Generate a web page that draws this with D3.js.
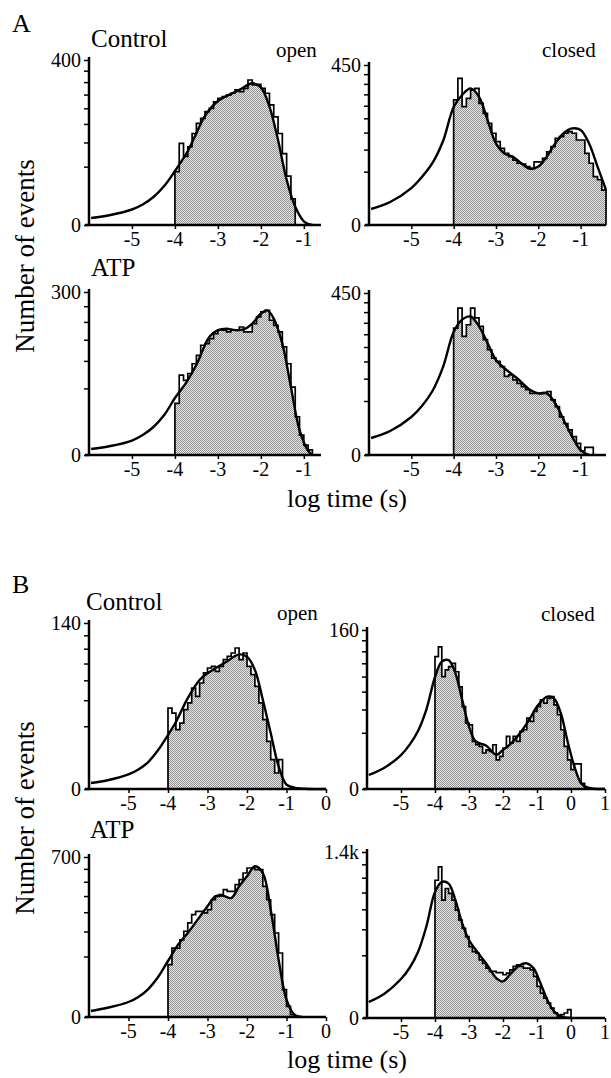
<!DOCTYPE html>
<html><head><meta charset="utf-8">
<script src="https://cdn.jsdelivr.net/npm/d3@7"></script>
<style>
html,body{margin:0;padding:0;background:#fff;}
svg text{font-family:"Liberation Serif";}
</style></head>
<body>
<svg id="chart" width="611" height="1078"></svg>
<script>
// ---------- DATA (log10 time in s; counts; sqrt y-axis) ----------
const binWidth = 0.1;
const histStart = -4;

// A - Control - open
const aCtrlOpenHist = [42,98,69,90,123,152,167,189,200,223,236,242,248,255,268,261,274,309,288,291,274,255,212,172,123,75,35,10];
const aCtrlOpenFitX = [-5.95,-5.5,-5,-4.75,-4.5,-4.25,-4,-3.7,-3.5,-3.3,-3,-2.5,-2.2,-2,-1.8,-1.6,-1.4,-1.2,-1,-0.8];
const aCtrlOpenFitY = [0.72,1.47,3.53,6.17,11.5,22.3,42.8,80.5,124,175,226,268,295,278,206,106,30,4.9,0.2,0];

// A - Control - closed
const aCtrlClosedHist = [275,378,246,282,320,328,260,219,182,148,122,103,90,82,74,67,65,60,56,70,70,78,94,108,132,137,148,153,148,127,127,90,67,41,36,21.5];
const aCtrlClosedFitX = [-5.95,-5.5,-5,-4.75,-4.5,-4.25,-4,-3.8,-3.6,-3.4,-3.2,-3,-2.8,-2.6,-2.4,-2.2,-2,-1.8,-1.6,-1.4,-1.2,-1,-0.8,-0.6,-0.4];
const aCtrlClosedFitY = [4.5,9.3,24,40.5,67.6,124,245,297,328,289,194,117,90,82,67,56,60,82,117,148,164,159,117,60,21.5];

// A - ATP - open
const aAtpOpenHist = [30,72,63,75,94,112,136,140,153,166,176,176,171,176,176,185,171,171,195,215,231,236,205,190,171,132,94,52,16.5,4.5,1.1,0.3];
const aAtpOpenFitX = [-5.95,-5.5,-5,-4.75,-4.5,-4.25,-4,-3.75,-3.5,-3.2,-3,-2.8,-2.6,-2.4,-2.2,-2,-1.85,-1.7,-1.5,-1.3,-1.1,-0.9,-0.8];
const aAtpOpenFitY = [0.41,0.91,2.37,4.5,8.85,18,36.7,58,92,157,176,180,176,178,195,226,236,210,140,52,7,0.2,0];

// A - ATP - closed
const aAtpClosedHist = [276,370,241,291,370,322,284,228,190,161,150,134,106,110,97,88,80,73,65,65,65,67,69,52,40,25,17,10.8,5.8,2.3,0.3,1,1];
const aAtpClosedFitX = [-5.95,-5.5,-5,-4.75,-4.5,-4.25,-4,-3.8,-3.6,-3.4,-3.2,-3,-2.8,-2.5,-2.2,-2,-1.8,-1.6,-1.4,-1.2,-1,-0.8];
const aAtpClosedFitY = [4.95,9.9,24.8,41.2,70.2,133,259,314,329,284,215,155,129,101,73,65,65,46,21,5.8,0.4,0];

// B - Control - open
const bCtrlOpenHist = [33.3,29.3,17.9,22.1,32,37.6,51.8,43.6,57.1,68.4,74.4,76.4,70.4,76.4,85,89.4,94,101,85,94,76.4,66.4,53.5,37.6,24.4,11.5,4.4,1.3,4.4];
const bCtrlOpenFitX = [-5.95,-5.5,-5,-4.75,-4.5,-4.25,-4,-3.8,-3.5,-3.2,-3,-2.8,-2.5,-2.2,-2,-1.8,-1.6,-1.4,-1.2,-1,-0.8,-0.4,0];
const bCtrlOpenFitY = [0.18,0.41,1.07,1.93,3.7,7.7,14.8,22.8,42,60.4,68,74,83,92,89,72,40.5,15.9,2.6,0.1,0.01,0,0];

// B - Control - closed
const bCtrlClosedHist = [111,128,80,89.8,94.8,100,87,66,43,27.5,26,14.3,12.4,11.5,8.2,9.7,8.9,12.4,5.4,6.7,10.6,17.5,13.3,17.5,14.3,21,22.2,31.8,28.9,38,43,50.3,46.6,52,54,44.8,34.9,22.2,11.5,5.4,2.4,4,4,0.2];
const bCtrlClosedFitX = [-5.95,-5.5,-5,-4.75,-4.5,-4.25,-4,-3.8,-3.6,-3.4,-3.2,-3,-2.8,-2.5,-2.2,-2,-1.8,-1.5,-1.2,-1,-0.7,-0.5,-0.3,-0.1,0.1,0.3,0.5,1];
const bCtrlClosedFitY = [1.24,2.79,7.3,12.3,21.3,40.5,79.4,102.7,105,84.8,50.3,24.7,14.3,12,7.4,9.7,12.4,19.7,31.8,43,54,52,36.4,14.3,3.2,0.2,0.01,0];

// B - ATP - open
const bAtpOpenHist = [75,130,130,163,201,242,287,305,305,296,315,376,398,409,443,432,432,479,516,567,607,607,594,594,467,376,287,193,112,20.4,3.1,0.15];
const bAtpOpenFitX = [-5.95,-5.5,-5,-4.75,-4.5,-4.25,-4,-3.75,-3.5,-3,-2.8,-2.6,-2.4,-2.2,-2,-1.8,-1.6,-1.4,-1.2,-1,-0.8,-0.6];
const bAtpOpenFitY = [0.98,2.47,6.15,10.9,21.4,43.75,85.75,141.75,193,335,398,402,387,467,541,621,567,315,90,8.2,0.15,0];

// B - ATP - closed
const bAtpClosedHist = [964,1159,706,852,788,706,592,487,408,336,259,224,213,172,152,126,110,110,105,105,95,102,118,135,143,135,126,126,118,88,51,31.5,20,11.3,5,1.3,0.14,0.56,1.26,3.5];
const bAtpClosedFitX = [-5.95,-5.5,-5,-4.75,-4.5,-4.25,-4,-3.8,-3.6,-3.4,-3.2,-3,-2.8,-2.5,-2.2,-2,-1.8,-1.5,-1.3,-1.1,-0.9,-0.7,-0.5,-0.3,0];
const bAtpClosedFitY = [13,29.3,77.3,127,221,430,807,941,918,706,455,309,235,152,81,68,95,143,152,126,62,17,2.2,0.14,0];

// tick labels
const xTicksA = [-5,-4,-3,-2,-1];
const xTicksBOpen = [-5,-4,-3,-2,-1,0];
const xTicksBClosed = [-5,-4,-3,-2,-1,0,1];

// ---------- LAYOUT ----------
const FONT = "Liberation Serif";
const panels = [
  {hist:aCtrlOpenHist, fx:aCtrlOpenFitX, fy:aCtrlOpenFitY, xd:[-6,-0.6], xr:[89,321], y0:225, yt:60, ymax:400, ystep:50, ylab:"400", xt:xTicksA},
  {hist:aCtrlClosedHist, fx:aCtrlClosedFitX, fy:aCtrlClosedFitY, xd:[-6,-0.4], xr:[369,606], y0:225, yt:65, ymax:450, ystep:50, ylab:"450", xt:xTicksA},
  {hist:aAtpOpenHist, fx:aAtpOpenFitX, fy:aAtpOpenFitY, xd:[-6,-0.6], xr:[89,321], y0:455, yt:292, ymax:300, ystep:50, ylab:"300", xt:xTicksA},
  {hist:aAtpClosedHist, fx:aAtpClosedFitX, fy:aAtpClosedFitY, xd:[-6,-0.4], xr:[369,606], y0:455, yt:293, ymax:450, ystep:50, ylab:"450", xt:xTicksA},
  {hist:bCtrlOpenHist, fx:bCtrlOpenFitX, fy:bCtrlOpenFitY, xd:[-6,0], xr:[89,326], y0:789, yt:623, ymax:140, ystep:20, ylab:"140", xt:xTicksBOpen},
  {hist:bCtrlClosedHist, fx:bCtrlClosedFitX, fy:bCtrlClosedFitY, xd:[-6,1], xr:[367,605], y0:789, yt:630, ymax:160, ystep:20, ylab:"160", xt:xTicksBClosed},
  {hist:bAtpOpenHist, fx:bAtpOpenFitX, fy:bAtpOpenFitY, xd:[-6,0], xr:[89,326], y0:1017, yt:857, ymax:700, ystep:100, ylab:"700", xt:xTicksBOpen},
  {hist:bAtpClosedHist, fx:bAtpClosedFitX, fy:bAtpClosedFitY, xd:[-6,1], xr:[367,605], y0:1018, yt:852, ymax:1400, ystep:200, ylab:"1.4k", xt:xTicksBClosed}
];

const svg = d3.select("#chart");
const defs = svg.append("defs");
const pat = defs.append("pattern").attr("id","dither").attr("width",2).attr("height",2).attr("patternUnits","userSpaceOnUse");
pat.append("rect").attr("width",2).attr("height",2).attr("fill","#e6e6e6");
pat.append("rect").attr("x",0).attr("y",0).attr("width",1).attr("height",1).attr("fill","#939393");
pat.append("rect").attr("x",1).attr("y",1).attr("width",1).attr("height",1).attr("fill","#939393");

const smooth = d3.curveCatmullRom.alpha(0.5);

panels.forEach((p,i) => {
  const x = d3.scaleLinear().domain(p.xd).range(p.xr);
  const y = d3.scaleSqrt().domain([0,p.ymax]).range([p.y0,p.yt]).clamp(true);
  const g = svg.append("g");
  const fit = p.fx.map((v,k)=>[v,p.fy[k]]);

  const cp = defs.append("clipPath").attr("id","clip"+i);
  cp.append("path").attr("d", d3.area().x(d=>x(d[0])).y0(p.y0).y1(d=>y(d[1])).curve(smooth)(fit));

  const pts = [[histStart,0]];
  p.hist.forEach((v,k)=>{
    const a = histStart + k*binWidth, b = a + binWidth;
    pts.push([a,v]); pts.push([b,v]);
  });
  pts.push([histStart + p.hist.length*binWidth, 0]);

  g.append("path")
    .attr("d", d3.area().x(d=>x(d[0])).y0(p.y0).y1(d=>y(d[1]))(pts))
    .attr("fill","url(#dither)")
    .attr("clip-path","url(#clip"+i+")");

  g.append("path")
    .attr("d", d3.line().x(d=>x(d[0])).y(d=>y(d[1]))(pts))
    .attr("fill","none").attr("stroke","#000").attr("stroke-width",1.7);

  g.append("path")
    .attr("d", d3.line().x(d=>x(d[0])).y(d=>Math.min(p.y0, y(d[1]))).curve(smooth)(fit))
    .attr("fill","none").attr("stroke","#000").attr("stroke-width",2.4);

  const yTicks = d3.range(0, p.ymax + 1, p.ystep);
  const ya = g.append("g").attr("transform",`translate(${p.xr[0]},0)`)
    .call(d3.axisLeft(y).tickValues(yTicks).tickSize(5).tickSizeOuter(0).tickFormat(""));
  ya.select(".domain").remove();
  ya.selectAll(".tick line").attr("stroke","#000").attr("stroke-width",1.5);
  [[0,"0"],[p.ymax,p.ylab]].forEach(([v,l]) => {
    g.append("text").attr("font-family",FONT).attr("font-size",20)
      .attr("x",p.xr[0]-8).attr("y",y(v)).attr("dy","0.35em").attr("text-anchor","end").text(l);
  });
  g.append("line").attr("x1",p.xr[0]).attr("x2",p.xr[0]).attr("y1",p.yt-3).attr("y2",p.y0)
    .attr("stroke","#000").attr("stroke-width",2.5);

  const xa = g.append("g").attr("transform",`translate(0,${p.y0})`)
    .call(d3.axisBottom(x).tickValues(p.xt).tickSize(4).tickSizeOuter(0).tickFormat(""));
  xa.select(".domain").remove();
  xa.selectAll(".tick line").attr("stroke","#000").attr("stroke-width",1.5);
  p.xt.forEach(v => {
    g.append("text").attr("font-family",FONT).attr("font-size",20)
      .attr("x",x(v)).attr("y",p.y0+21).attr("text-anchor","middle").text(String(v));
  });
  g.append("line").attr("x1",p.xr[0]-4).attr("x2",p.xr[1]).attr("y1",p.y0).attr("y2",p.y0)
    .attr("stroke","#000").attr("stroke-width",2.5);
});

function txt(s,xp,yp,size,anchor){
  svg.append("text").attr("font-family",FONT).attr("x",xp).attr("y",yp).attr("font-size",size)
    .attr("text-anchor",anchor||"start").text(s);
}
txt("A",12,32,26);
txt("Control",91,47,25);
txt("open",276,57,21);
txt("closed",542,57,21);
txt("ATP",91,276,25);
txt("log time (s)",347,507,26,"middle");
txt("B",12,593,26);
txt("Control",86,610,25);
txt("open",277,620,21);
txt("closed",541,621,21);
txt("ATP",90,838,25);
txt("log time (s)",347,1068,26,"middle");
svg.append("text").attr("font-family",FONT).attr("transform","translate(34,256) rotate(-90)").attr("font-size",27)
  .attr("text-anchor","middle").text("Number of events");
svg.append("text").attr("font-family",FONT).attr("transform","translate(34,818) rotate(-90)").attr("font-size",27)
  .attr("text-anchor","middle").text("Number of events");
</script>
</body></html>
